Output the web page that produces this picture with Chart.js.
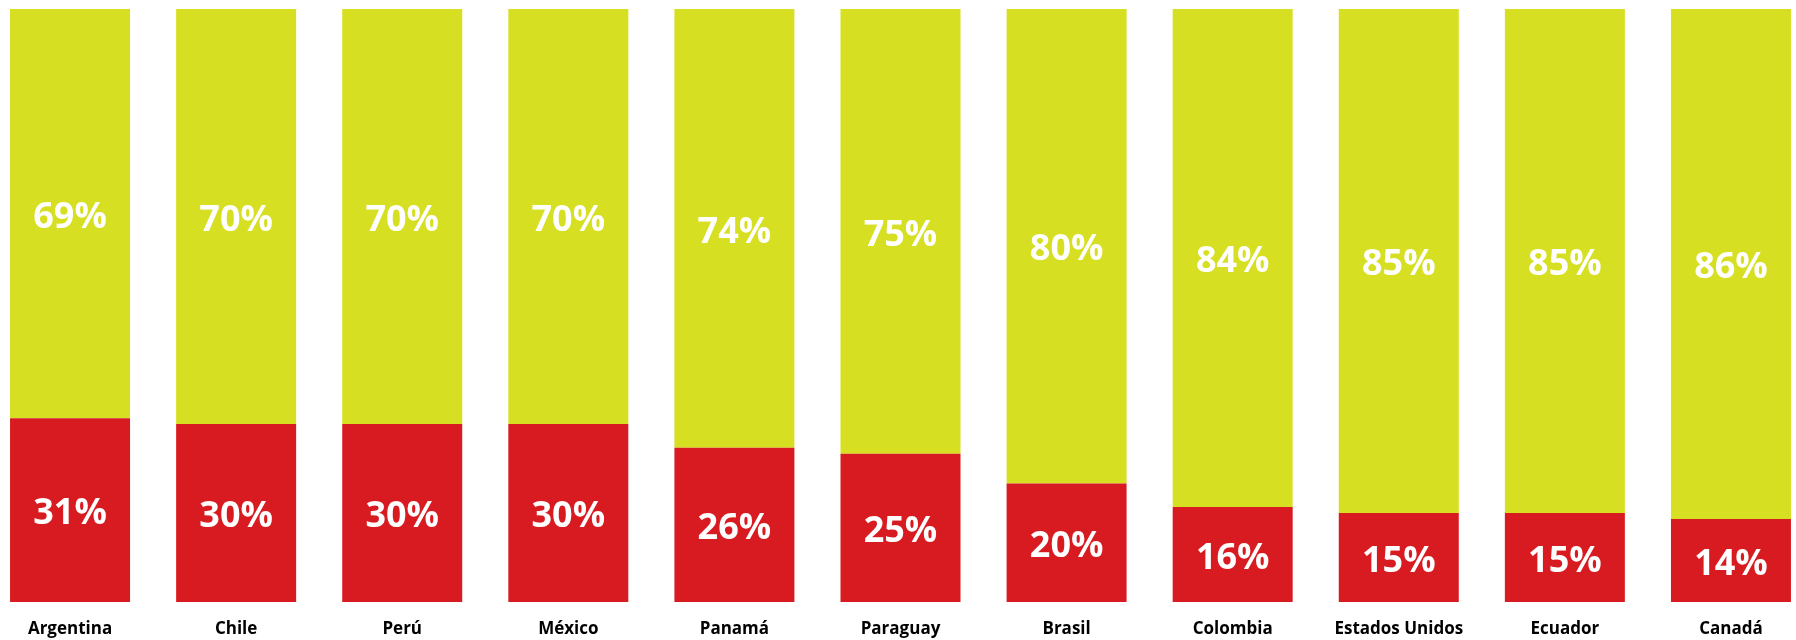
<!DOCTYPE html>
<html>
<head>
<meta charset="utf-8">
<script src="https://cdn.jsdelivr.net/npm/chart.js@4/dist/chart.umd.min.js"></script>
<style>
  html, body { margin: 0; padding: 0; background: #ffffff; overflow: hidden; }
  #wrap { position: absolute; left: -13px; top: 0; width: 1827px; height: 640px; }
</style>
</head>
<body>
<div id="wrap"><canvas id="chart"></canvas></div>
<script>
const countries = ['Argentina', 'Chile', 'Perú', 'México', 'Panamá', 'Paraguay', 'Brasil', 'Colombia', 'Estados Unidos', 'Ecuador', 'Canadá'];
const redShare = [31, 30, 30, 30, 26, 25, 20, 16, 15, 15, 14];
const greenShare = [69, 70, 70, 70, 74, 75, 80, 84, 85, 85, 86];

const RED = '#D81B21';
const GREEN = '#D7DF22';
const FONT = '"Open Sans", "Liberation Sans", sans-serif';

// Writes each segment's percentage in the middle of its bar piece
const segmentLabels = {
  id: 'segmentLabels',
  afterDatasetsDraw(chart) {
    const ctx = chart.ctx;
    ctx.save();
    ctx.fillStyle = '#ffffff';
    ctx.font = 'bold 36px ' + FONT;
    ctx.textAlign = 'center';
    ctx.textBaseline = 'middle';
    chart.data.datasets.forEach((ds, di) => {
      const meta = chart.getDatasetMeta(di);
      meta.data.forEach((bar, i) => {
        const cy = (bar.y + bar.base) / 2 + 4;
        ctx.fillText(ds.data[i] + '%', bar.x, cy);
      });
    });
    ctx.restore();
  }
};

new Chart(document.getElementById('chart'), {
  type: 'bar',
  data: {
    labels: countries,
    datasets: [
      { label: 'red', data: redShare, backgroundColor: RED, borderWidth: 0 },
      { label: 'green', data: greenShare, backgroundColor: GREEN, borderWidth: 0 }
    ]
  },
  options: {
    responsive: true,
    maintainAspectRatio: false,
    animation: false,
    layout: { padding: { top: 9, left: 0, right: 0, bottom: 0 } },
    datasets: { bar: { categoryPercentage: 1.0, barPercentage: 0.7225 } },
    plugins: { legend: { display: false }, tooltip: { enabled: false } },
    scales: {
      x: {
        stacked: true,
        grid: { display: false, drawTicks: false },
        border: { display: false },
        ticks: { color: '#000000', font: { family: FONT, weight: 'bold', size: 17 }, padding: 17, maxRotation: 0, autoSkip: false },
        afterFit(scale) { scale.height = 38; }
      },
      y: {
        stacked: true,
        display: false,
        min: 0,
        max: 100
      }
    }
  },
  plugins: [segmentLabels]
});
</script>
</body>
</html>
